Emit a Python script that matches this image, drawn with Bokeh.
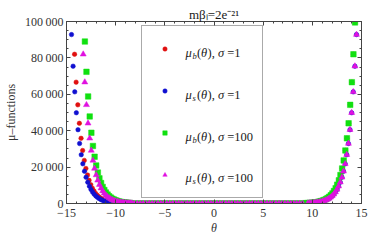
from bokeh.plotting import figure
from bokeh.models import (LinearAxis, SingleIntervalTicker, CustomJSTickFormatter, Range1d,
                          Legend, LegendItem, Label)
from bokeh.embed import file_html
from bokeh.resources import INLINE

# ---------------- data ----------------
# mu_b(theta), sigma=1  (red)
red_theta = [-14.18, -14.02, -13.85, -13.69, -13.52, -13.36, -13.19, -13.03, -12.86, -12.7, -12.53, -12.37,
             -12.2, -12.04, -11.87, -11.71, -11.54, -11.38, -11.21, -11.05, -10.88, -10.72, -10.55, -10.39,
             -10.22, -10.06, -9.89, -9.73, -9.56, -9.4, -9.23,
             9.23, 9.4, 9.56, 9.73, 9.89, 10.06, 10.22, 10.39, 10.55, 10.72, 10.88, 11.05, 11.21, 11.38, 11.54,
             11.71, 11.87, 12.04, 12.2, 12.37, 12.53, 12.7, 12.86, 13.03, 13.19, 13.36, 13.52, 13.69, 13.85,
             14.02, 14.18, 14.34]
red_vals = [82000, 66670, 54200, 44070, 35830, 29130, 23680, 19250, 15650, 12730, 10350, 8410,
            6840, 5560, 4520, 3680, 2990, 2430, 1980, 1610, 1310, 1060, 862, 701,
            570, 463, 377, 306, 249, 203, 165,
            165, 203, 249, 306, 377, 463, 570, 701, 862, 1060, 1310, 1610, 1980, 2430, 2990,
            3680, 4520, 5560, 6840, 8410, 10350, 12730, 15650, 19250, 23680, 29130, 35830, 44070, 54200,
            66670, 82000, 99500]

# mu_s(theta), sigma=1  (blue)
blue_theta = [-14.49, -14.33, -14.16, -14.0, -13.83, -13.67, -13.5, -13.34, -13.17, -13.01, -12.84, -12.67,
              -12.51, -12.35, -12.18, -12.02, -11.85, -11.69, -11.52, -11.36, -11.19, -11.03, -10.86, -10.7,
              -10.53, -10.37, -10.2, -10.04, -9.87, -9.71, -9.54,
              9.54, 9.71, 9.87, 10.04, 10.2, 10.37, 10.53, 10.7, 10.86, 11.03, 11.19, 11.36, 11.52, 11.69,
              11.85, 12.02, 12.18, 12.35, 12.51, 12.67, 12.84, 13.01, 13.17, 13.34, 13.5, 13.67, 13.83, 14.0,
              14.16, 14.33, 14.49]
blue_vals = [92800, 75450, 61340, 49870, 40540, 32960, 26800, 21790, 17710, 14400, 11710, 9520,
             7740, 6290, 5110, 4160, 3380, 2750, 2230, 1820, 1480, 1200, 976, 793,
             645, 524, 426, 347, 282, 229, 186,
             186, 229, 282, 347, 426, 524, 645, 793, 976, 1200, 1480, 1820, 2230, 2750,
             3380, 4160, 5110, 6290, 7740, 9520, 11710, 14400, 17710, 21790, 26800, 32960, 40540, 49870,
             61340, 75450, 92800]

# mu_b(theta), sigma=100  (green)
green_theta = [-13.13, -12.97, -12.8, -12.64, -12.47, -12.31, -12.14, -11.98, -11.81, -11.65, -11.48, -11.32,
               -11.15, -10.99, -10.82, -10.66, -10.49, -10.33, -10.16, -10.0, -9.83, -9.67, -9.5, -9.34,
               -9.17, -9.01, -8.84, -8.68, -8.51,
               9.23, 9.4, 9.56, 9.73, 9.89, 10.06, 10.22, 10.39, 10.55, 10.72, 10.88, 11.05, 11.21, 11.38, 11.54,
               11.71, 11.87, 12.04, 12.2, 12.37, 12.53, 12.7, 12.86, 13.03, 13.19, 13.36, 13.52, 13.69, 13.85,
               14.02, 14.18, 14.34]
green_vals = [89000, 72360, 58830, 47830, 38880, 31610, 25700, 20900, 16990, 13810, 11230, 9130,
              7420, 6040, 4910, 3990, 3240, 2640, 2140, 1740, 1420, 1150, 936, 761,
              619, 503, 409, 333, 270,
              165, 203, 249, 306, 377, 463, 570, 701, 862, 1060, 1310, 1610, 1980, 2430, 2990,
              3680, 4520, 5560, 6840, 8410, 10350, 12730, 15650, 19250, 23680, 29130, 35830, 44070, 54200,
              66670, 82000, 99500]

# mu_s(theta), sigma=100  (magenta)
magenta_theta = [-13.3, -13.14, -12.97, -12.81, -12.64, -12.48, -12.31, -12.15, -11.98, -11.82, -11.65, -11.49,
                 -11.32, -11.16, -10.99, -10.83, -10.66, -10.5, -10.33, -10.17, -10.0, -9.84, -9.67, -9.51,
                 -9.34, -9.18, -9.01, -8.85, -8.68, -8.52, -8.35,
                 9.54, 9.71, 9.87, 10.04, 10.2, 10.37, 10.53, 10.7, 10.86, 11.03, 11.19, 11.36, 11.52, 11.69,
                 11.85, 12.02, 12.18, 12.35, 12.51, 12.67, 12.84, 13.01, 13.17, 13.34, 13.5, 13.67, 13.83, 14.0,
                 14.16, 14.33, 14.49]
magenta_vals = [82000, 66670, 54200, 44070, 35830, 29130, 23680, 19250, 15650, 12730, 10350, 8410,
                6840, 5560, 4520, 3680, 2990, 2430, 1980, 1610, 1310, 1060, 862, 701,
                570, 463, 377, 306, 249, 203, 165,
                186, 229, 282, 347, 426, 524, 645, 793, 976, 1200, 1480, 1820, 2230, 2750,
                3380, 4160, 5110, 6290, 7740, 9520, 11710, 14400, 17710, 21790, 26800, 32960, 40540, 49870,
                61340, 75450, 92800]

# flat central part shared by all four series (values ~0 at this scale)
mid_theta = [-9.0, -8.7, -8.4, -8.1, -7.8, -7.5, -7.2, -6.9, -6.6, -6.3, -6.0, -5.7, -5.4, -5.1, -4.8, -4.5,
             -4.2, -3.9, -3.6, -3.3, -3.0, -2.7, -2.4, -2.1, -1.8, -1.5, -1.2, -0.9, -0.6, -0.3, 0.0,
             0.3, 0.6, 0.9, 1.2, 1.5, 1.8, 2.1, 2.4, 2.7, 3.0, 3.3, 3.6, 3.9, 4.2, 4.5, 4.8, 5.1, 5.4,
             5.7, 6.0, 6.3, 6.6, 6.9, 7.2, 7.5, 7.8, 8.1, 8.4, 8.7, 9.0]
mid_vals = [0, 0, 0, 0, 0, 0, 0, 0, 0, 0, 0, 0, 0, 0, 0, 0, 0, 0, 0, 0, 0, 0, 0, 0, 0, 0, 0, 0, 0, 0, 0,
            0, 0, 0, 0, 0, 0, 0, 0, 0, 0, 0, 0, 0, 0, 0, 0, 0, 0, 0, 0, 0, 0, 0, 0, 0, 0, 0, 0, 0, 0]

x_ticks_interval = 5
y_ticks_interval = 20000
x_limits = (-15, 15)
y_limits = (0, 100000)
title_text = "mβₗ=2e⁻²¹"

# ---------------- figure ----------------
FONT = "Liberation Serif"
AX = "#444444"

p = figure(width=392, height=245, output_backend="svg", toolbar_location=None,
           x_range=Range1d(*x_limits), y_range=Range1d(*y_limits),
           min_border_left=66, min_border_right=31, min_border_top=21, min_border_bottom=42,
           x_axis_label="θ", y_axis_label="μ–functions", title=title_text)
p.grid.visible = False
p.outline_line_color = None
p.background_fill_color = "white"
p.border_fill_color = "white"

p.title.align = "center"
p.title.text_font = FONT
p.title.text_font_size = "13px"
p.title.text_font_style = "normal"
p.title.text_color = "#1a1a1a"
p.title.standoff = 0
p.title.offset = 0

xfmt = CustomJSTickFormatter(code="return tick < 0 ? '\\u2212' + Math.abs(tick) : '' + tick;")
yfmt = CustomJSTickFormatter(code="return tick.toLocaleString('en-US').replace(/,/g, '\\u2009');")
nofmt = CustomJSTickFormatter(code="return '';")

def style_axis(ax, ticker, show_labels):
    ax.ticker = ticker
    ax.axis_line_color = AX
    ax.major_tick_line_color = AX
    ax.minor_tick_line_color = AX
    ax.major_tick_in = 4
    ax.major_tick_out = 0
    ax.minor_tick_in = 2
    ax.minor_tick_out = 0
    ax.major_label_text_font = FONT
    ax.major_label_text_color = "#333333"
    ax.major_label_text_font_size = "12px"
    if not show_labels:
        ax.formatter = nofmt
        ax.major_label_standoff = 0

xt = SingleIntervalTicker(interval=x_ticks_interval, num_minor_ticks=5)
yt = SingleIntervalTicker(interval=y_ticks_interval, num_minor_ticks=4)

style_axis(p.xaxis[0], xt, True)
p.xaxis[0].formatter = xfmt
p.xaxis[0].major_label_standoff = 5
p.xaxis[0].axis_label_standoff = 1
p.xaxis[0].axis_label_text_font = FONT
p.xaxis[0].axis_label_text_font_size = "12px"
p.xaxis[0].axis_label_text_font_style = "italic"
p.xaxis[0].axis_label_text_color = "#333333"

style_axis(p.yaxis[0], yt, True)
p.yaxis[0].formatter = yfmt
p.yaxis[0].major_label_standoff = 3
p.yaxis[0].axis_label_standoff = 4
p.yaxis[0].axis_label_text_font = FONT
p.yaxis[0].axis_label_text_font_size = "12px"
p.yaxis[0].axis_label_text_font_style = "normal"
p.yaxis[0].axis_label_text_color = "#333333"

top = LinearAxis()
style_axis(top, SingleIntervalTicker(interval=x_ticks_interval, num_minor_ticks=5), False)
p.add_layout(top, "above")
right = LinearAxis()
style_axis(right, SingleIntervalTicker(interval=y_ticks_interval, num_minor_ticks=4), False)
p.add_layout(right, "right")

# ---------------- data marks ----------------
series = [
    (red_theta, red_vals, "circle", "#e01010", 4.5),
    (blue_theta, blue_vals, "circle", "#1010d0", 4.5),
    (green_theta, green_vals, "square", "#10e010", 5.5),
    (magenta_theta, magenta_vals, "triangle", "#e010e0", 6.0),
]
renderers = []
for th, vals, marker, color, size in series:
    r = p.scatter(th + mid_theta, vals + mid_vals, marker=marker, size=size,
                  fill_color=color, line_color=color, line_width=0.5)
    renderers.append(r)

legend = Legend(items=[LegendItem(label=" ", renderers=[r]) for r in renderers],
                location=(75, 5), margin=0, padding=17, spacing=31,
                glyph_width=11, glyph_height=11, label_standoff=5, label_width=70, label_height=11,
                border_line_color="#555555", border_line_width=1,
                background_fill_color="white", background_fill_alpha=0.0,
                label_text_font_size="11px")
p.add_layout(legend, "center")

# ---------------- legend texts with subscripts ----------------
def piece(x, y, text, size, style="normal"):
    p.add_layout(Label(x=x, y=y, x_units="screen", y_units="screen", text=text,
                       text_font=FONT, text_font_size=f"{size}px", text_font_style=style,
                       text_color="#1a1a1a", text_baseline="alphabetic", text_align="left"))

legend_entries = [("b", "=1", 151), ("s", "=1", 109), ("b", "=100", 67), ("s", "=100", 26)]
for sub, rest, yb in legend_entries:
    x0 = 119
    piece(x0, yb, "μ", 12.5, "italic")
    piece(x0 + 7.0, yb - 3, sub, 8.5, "italic")
    piece(x0 + 11.4, yb, "(", 12.5)
    piece(x0 + 15.6, yb, "θ", 12.5, "italic")
    piece(x0 + 22.1, yb, "), ", 12.5)
    piece(x0 + 32.5, yb, "σ", 12.5, "italic")
    piece(x0 + 39.2, yb, "\u2009" + rest, 12.5)

open("out.html", "w").write(file_html(p, INLINE))
